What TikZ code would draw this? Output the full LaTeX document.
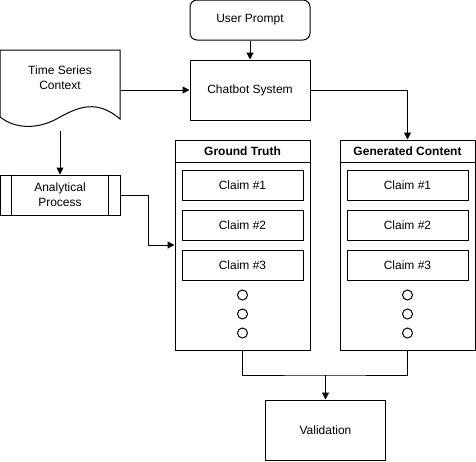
\documentclass[tikz,border=0pt]{standalone}
\usepackage{fontspec}
\setmainfont{Liberation Sans}
\usepackage{tikz}
\usetikzlibrary{arrows.meta}
\tikzstyle{block}=[rectangle,draw=black,inner sep=0mm,minimum width=120,minimum height=60,align=center]
\tikzstyle{prompt}=[rectangle,draw=black,rounded corners=7,inner sep=0mm,minimum width=120,minimum height=40]
\tikzstyle{doc}=[rectangle,inner sep=0mm,minimum width=120,minimum height=80]
\tikzstyle{container}=[rectangle,draw=black,inner sep=0mm,minimum width=135,minimum height=210]
\tikzstyle{claim}=[rectangle,draw=black,inner sep=0mm,minimum width=121,minimum height=30]
\tikzstyle{dot}=[circle,draw=black,inner sep=0mm,minimum size=10]
\tikzstyle{header}=[font=\bfseries\fontsize{12}{15}\selectfont]
\tikzstyle{arrow}=[->,>={Triangle[length=7pt,width=7pt]}]
\tikzset{every picture/.style={
    line width=1
  },
  every node/.style={font=\fontsize{12}{15}\selectfont}
}

\begin{document}
\begin{tikzpicture}[x=1pt,y=-1pt]
          \useasboundingbox (0,0) rectangle (476,461);
          \node[prompt] at (250,20) (prompt) {User Prompt};
          \node[block] at (250,90) (chatbot) {Chatbot System};
          \node[doc] at (60,90) (context) {};
          \draw (0,50) -- (120,50) -- (120,119) .. controls (98,100) and (80,106) .. (60,117)
                .. controls (42,128) and (18,131) .. (0,117) -- cycle;
          \node[align=center] at (60,78) (contextlabel) {Time Series\\Context};
          \node[block,minimum height=40] at (60,195) (analysis) {Analytical\\Process};
          \draw ([xshift=12]analysis.north west) -- ([xshift=12]analysis.south west);
          \draw ([xshift=-12]analysis.north east) -- ([xshift=-12]analysis.south east);
          % two columns of claims
          \node[container] at (242.5,245) (truth) {};
          \node[container] at (407.5,245) (generated) {};
          \draw ([yshift=-23]truth.north west) -- ([yshift=-23]truth.north east);
          \draw ([yshift=-23]generated.north west) -- ([yshift=-23]generated.north east);
          \node[header] at (242.5,151.5) (truthtitle) {Ground Truth};
          \node[header] at (407.5,151.5) (generatedtitle) {Generated Content};
          \foreach \i/\y in {1/185,2/225,3/265} {
            \node[claim] at (242.5,\y) (truth\i) {Claim \#\i};
            \node[claim] at (407.5,\y) (generated\i) {Claim \#\i};
          }
          \foreach \i/\y in {1/295,2/314,3/333} {
            \node[dot] at (242.5,\y) (truthdot\i) {};
            \node[dot] at (407.5,\y) (generateddot\i) {};
          }
          \node[block] at (325.5,430) (validation) {Validation};
          \coordinate (merge) at (325.5,375);
          \draw [arrow] (prompt) -- (chatbot);
          \draw [arrow] (context) -- (chatbot);
          \draw [arrow] (context) -- (analysis);
          \draw [arrow] (chatbot) -| (generated);
          \draw [arrow] (analysis.east) -- ++(28,0) |- (truth);
          \draw (truth) |- (merge) -| (generated);
          \draw [arrow] (merge) -- (validation);
        \end{tikzpicture}
\end{document}
